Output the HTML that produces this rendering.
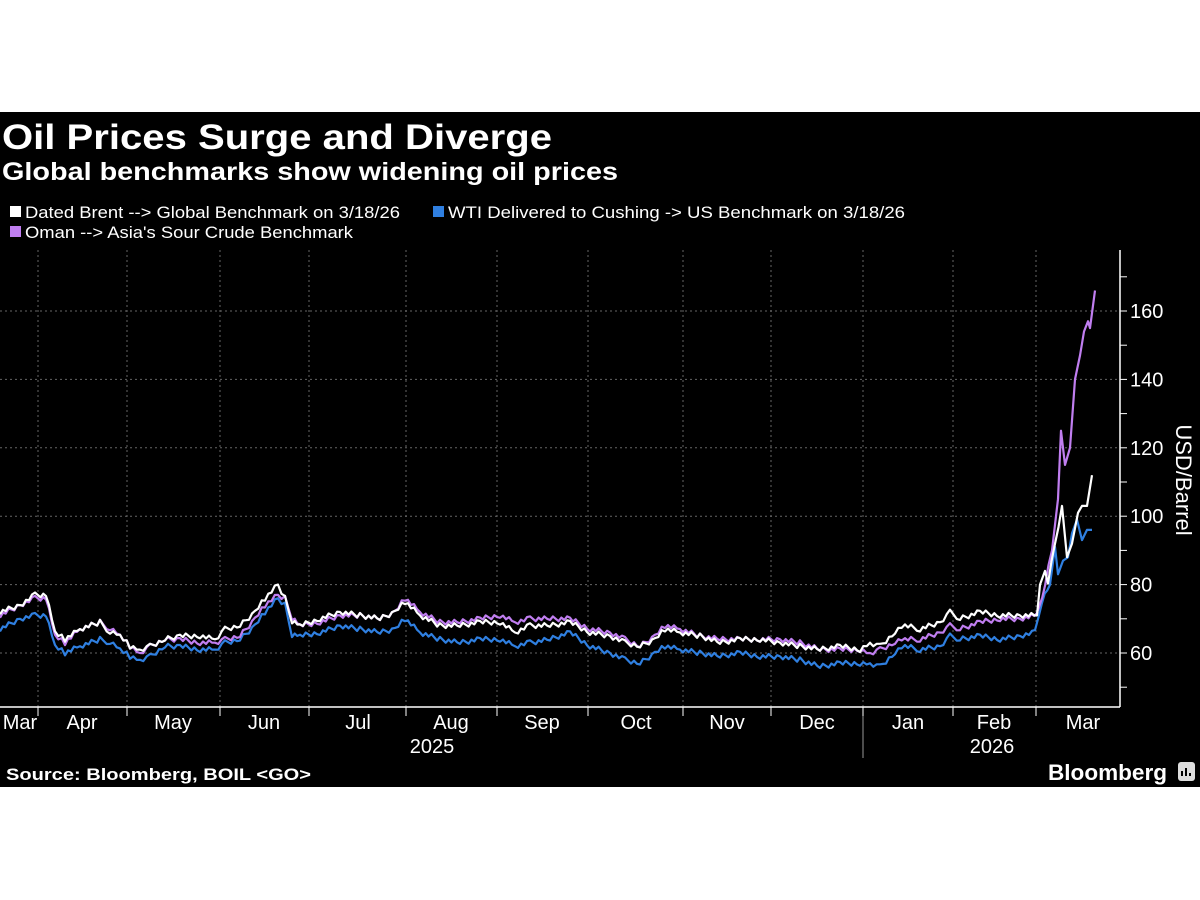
<!DOCTYPE html>
<html><head><meta charset="utf-8"><style>
html,body{margin:0;padding:0;background:#fff;}
#c{position:absolute;left:0;top:112px;width:1200px;height:675px;background:#000;}
svg{position:absolute;left:0;top:0;}
text{font-family:"Liberation Sans",sans-serif;fill:#fff;}
</style></head><body>
<div id="c"></div>
<svg width="1200" height="900" id="s" xmlns="http://www.w3.org/2000/svg">
<text x="2" y="149" font-size="35" font-weight="bold" textLength="550" lengthAdjust="spacingAndGlyphs">Oil Prices Surge and Diverge</text>
<text x="2" y="180" font-size="25" font-weight="bold" textLength="616" lengthAdjust="spacingAndGlyphs">Global benchmarks show widening oil prices</text>
<rect x="10" y="206" width="11" height="11" fill="#fff"/>
<text x="25" y="218" font-size="17" textLength="375" lengthAdjust="spacingAndGlyphs">Dated Brent --&gt; Global Benchmark on 3/18/26</text>
<rect x="433" y="206" width="11" height="11" fill="#2f7fe0"/>
<text x="448" y="218" font-size="17" textLength="457" lengthAdjust="spacingAndGlyphs">WTI Delivered to Cushing -&gt; US Benchmark on 3/18/26</text>
<rect x="10" y="226" width="11" height="11" fill="#c07ef0"/>
<text x="25" y="238" font-size="17" textLength="328" lengthAdjust="spacingAndGlyphs">Oman --&gt; Asia's Sour Crude Benchmark</text>
<g id="grid" stroke="#666" stroke-width="1" stroke-dasharray="2,3"></g>
<line x1="0" y1="707" x2="1120" y2="707" stroke="#fff" stroke-width="1.5"/>
<line x1="1120" y1="250" x2="1120" y2="707" stroke="#fff" stroke-width="1.5"/>
<line x1="863" y1="707" x2="863" y2="758" stroke="#999" stroke-width="1"/>
<g id="ticks" stroke="#fff" stroke-width="1"></g>
<g id="lab" font-size="20"></g>
<text x="432" y="753" font-size="20" text-anchor="middle">2025</text>
<text x="992" y="753" font-size="20" text-anchor="middle">2026</text>
<text transform="translate(1176,480) rotate(90)" font-size="22" text-anchor="middle">USD/Barrel</text>
<g id="lines" fill="none" stroke-width="2.2" stroke-linejoin="round"></g>
<text x="6" y="780" font-size="17" font-weight="bold" textLength="305" lengthAdjust="spacingAndGlyphs">Source: Bloomberg, BOIL &lt;GO&gt;</text>
<text x="1048" y="780" font-size="22" font-weight="bold" textLength="119" lengthAdjust="spacingAndGlyphs">Bloomberg</text>
<rect x="1178" y="762" width="17" height="19" rx="3" fill="#ddd"/>
<path d="M1182 776v-5M1186 776v-8M1190 776v-3" stroke="#000" stroke-width="2"/>
</svg>
<script>
var NS="http://www.w3.org/2000/svg",s=document.getElementById('s');
function el(p,t,a){var e=document.createElementNS(NS,t);for(var k in a)e.setAttribute(k,a[k]);document.getElementById(p).appendChild(e);return e;}
function Y(v){return 653-(v-60)*3.42;}
for(var v=60;v<=160;v+=20){el('grid','line',{x1:0,x2:1120,y1:Y(v),y2:Y(v)});var t=el('lab','text',{x:1130,y:Y(v)+7});t.textContent=v;}
for(var v=50;v<=170;v+=10){el('ticks','line',{x1:1120,x2:1127,y1:Y(v),y2:Y(v)});}
var mt=[38,127,220,309,406,497,588,683,771,863,953,1036];
mt.forEach(function(x){el('grid','line',{x1:x,x2:x,y1:250,y2:707});el('ticks','line',{x1:x,x2:x,y1:707,y2:716});});
var ml=[["Mar",20],["Apr",82],["May",173],["Jun",264],["Jul",358],["Aug",451],["Sep",542],["Oct",636],["Nov",727],["Dec",817],["Jan",908],["Feb",994],["Mar",1083]];
ml.forEach(function(m){var t=el('lab','text',{x:m[1],y:729,'text-anchor':'middle'});t.textContent=m[0];});
var brent=[[0,72],[20,74],[35,77],[46,77],[55,66],[65,64],[80,67],[100,69],[110,66],[120,65],[130,62],[140,61],[150,62],[165,64],[180,65],[200,65],[215,64],[225,67],[240,68],[255,72],[265,76],[278,80],[285,76],[292,69],[300,68],[320,70],[340,72],[360,71],[380,70],[395,72],[405,75],[420,71],[440,68],[460,68],[480,69],[500,69],[515,66],[530,68],[550,68],[570,69],[590,66],[610,65],[625,63],[640,62],[655,64],[665,67],[680,66],[700,65],[720,63],[740,64],[760,64],[780,63],[800,62],[820,61],[840,62],[860,61],[870,63],[880,62],[895,66],[905,68],[920,67],[940,69],[950,72],[960,70],[980,72],[1000,71],[1020,71],[1037,71],[1040,80],[1045,84],[1048,81],[1055,92],[1062,103],[1067,88],[1072,92],[1078,101],[1082,103],[1087,103],[1092,112]];
var oman=[[0,71],[20,74],[35,76],[46,76],[55,65],[65,63],[80,67],[100,69],[110,67],[120,65],[130,62],[140,60],[150,62],[165,64],[180,64],[200,63],[215,63],[225,64],[240,65],[255,70],[265,74],[278,77],[285,76],[292,70],[300,68],[320,69],[340,71],[360,71],[380,70],[395,72],[405,76],[420,72],[440,69],[460,69],[480,70],[500,71],[515,69],[530,70],[550,70],[570,70],[590,67],[610,66],[625,64],[640,62],[655,65],[665,68],[680,67],[700,65],[720,64],[740,64],[760,64],[780,64],[800,63],[820,61],[840,61],[860,61],[870,60],[880,61],[895,63],[905,64],[920,64],[940,66],[950,68],[960,67],[980,69],[1000,70],[1020,70],[1037,71],[1045,80],[1052,90],[1058,105],[1061,125],[1065,115],[1070,120],[1075,140],[1080,147],[1084,154],[1088,157],[1090,155],[1095,166]];
var wti=[[0,67],[20,70],[35,71],[46,71],[55,62],[65,60],[80,62],[100,64],[110,63],[120,61],[130,59],[140,58],[150,59],[165,62],[180,62],[200,61],[215,61],[225,63],[240,64],[255,68],[265,72],[278,76],[285,74],[292,65],[300,65],[320,66],[340,68],[360,67],[380,66],[395,67],[405,70],[420,66],[440,64],[460,63],[480,64],[500,64],[515,62],[530,63],[550,64],[570,66],[590,62],[610,60],[625,58],[640,57],[655,60],[665,62],[680,61],[700,60],[720,59],[740,60],[760,59],[780,59],[800,58],[820,56],[840,57],[860,57],[870,57],[880,56],[895,60],[905,62],[920,61],[940,62],[950,65],[960,64],[980,65],[1000,64],[1020,65],[1035,66],[1042,75],[1050,80],[1055,91],[1058,83],[1063,87],[1068,88],[1072,95],[1077,99],[1082,93],[1087,96],[1092,96]];
function pts(d){var o=[];for(var i=0;i<d.length-1;i++){var a=d[i],b=d[i+1],n=Math.max(1,Math.round((b[0]-a[0])/3));for(var j=0;j<n;j++){var x=a[0]+(b[0]-a[0])*j/n,v=a[1]+(b[1]-a[1])*j/n;if(b[0]-a[0]>6)v+=((i*7+j*13)%5-2)*0.35;o.push(x.toFixed(1)+","+Y(v).toFixed(1));}}var l=d[d.length-1];o.push(l[0]+","+Y(l[1]));return o.join(" ");}
el('lines','polyline',{points:pts(wti),stroke:'#2f7fe0'});
el('lines','polyline',{points:pts(oman),stroke:'#c07ef0'});
el('lines','polyline',{points:pts(brent),stroke:'#ffffff'});
</script>
</body></html>
